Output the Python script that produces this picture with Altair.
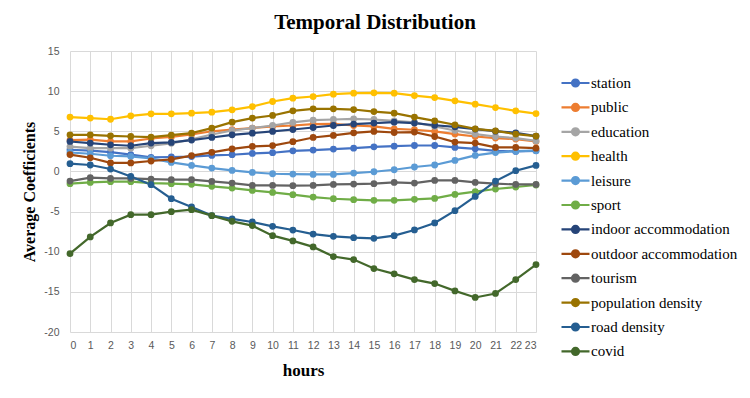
import altair as alt
import pandas as pd

hours = list(range(24))

station = [2.7, 2.6, 2.4, 2.1, 1.75, 1.8, 1.85, 1.99, 2.08, 2.24, 2.33, 2.57,
           2.66, 2.79, 2.9, 3.07, 3.15, 3.23, 3.23, 2.99, 2.82, 2.57, 2.49, 2.57]
public = [3.9, 3.95, 3.75, 3.75, 4.1, 4.3, 4.6, 5.0, 5.2, 5.4, 5.6, 5.72,
          5.9, 5.93, 5.72, 5.6, 5.31, 5.19, 4.98, 4.65, 4.35, 4.15, 4.03, 3.73]
education = [3.1, 2.9, 2.9, 2.9, 3.2, 3.5, 4.0, 4.6, 5.1, 5.4, 5.72, 6.1,
             6.39, 6.47, 6.55, 6.47, 6.3, 6.1, 5.6, 5.1, 4.65, 4.35, 4.15, 3.8]
health = [6.77, 6.64, 6.5, 6.93, 7.18, 7.18, 7.26, 7.38, 7.67, 8.08, 8.71, 9.13,
          9.33, 9.62, 9.75, 9.79, 9.75, 9.45, 9.2, 8.79, 8.38, 7.96, 7.55, 7.21]
leisure = [2.36, 2.2, 1.95, 1.87, 1.62, 1.12, 0.75, 0.42, 0.12, -0.12, -0.29, -0.33,
           -0.37, -0.37, -0.2, -0.04, 0.21, 0.55, 0.8, 1.37, 1.99, 2.35, 2.52, 2.58]
sport = [-1.53, -1.37, -1.28, -1.28, -1.45, -1.53, -1.61, -1.86, -2.07, -2.36, -2.61, -2.9,
         -3.19, -3.4, -3.52, -3.6, -3.6, -3.48, -3.36, -2.86, -2.52, -2.19, -1.94, -1.69]
indoor = [3.73, 3.53, 3.32, 3.2, 3.53, 3.61, 3.9, 4.23, 4.56, 4.77, 4.98, 5.22,
          5.47, 5.72, 5.9, 6.02, 6.14, 6.02, 5.75, 5.55, 5.27, 5.02, 4.8, 4.4]
outdoor = [2.1, 1.7, 1.06, 1.06, 1.3, 1.5, 1.97, 2.38, 2.8, 3.11, 3.22, 3.7,
           4.23, 4.48, 4.81, 4.98, 4.85, 4.9, 4.35, 3.66, 3.53, 2.99, 2.99, 2.9]
tourism = [-1.2, -0.78, -0.87, -0.87, -0.95, -1.03, -1.03, -1.24, -1.45, -1.74, -1.74, -1.78,
           -1.74, -1.62, -1.57, -1.53, -1.37, -1.45, -1.12, -1.12, -1.37, -1.53, -1.62, -1.62]
population_density = [4.56, 4.56, 4.44, 4.35, 4.28, 4.52, 4.77, 5.4, 6.14, 6.64, 6.97, 7.55,
                      7.8, 7.8, 7.71, 7.46, 7.26, 6.77, 6.3, 5.81, 5.31, 5.06, 4.65, 4.4]
road_density = [0.96, 0.8, 0.3, -0.62, -1.65, -3.4, -4.43, -5.5, -5.92, -6.3, -6.84, -7.3,
                -7.8, -8.08, -8.25, -8.33, -8.0, -7.29, -6.42, -4.89, -3.11, -1.2, 0.09, 0.75]
covid = [-10.24, -8.16, -6.42, -5.39, -5.39, -5.01, -4.76, -5.51, -6.22, -6.75, -8.0, -8.65,
         -9.4, -10.6, -10.98, -12.1, -12.76, -13.47, -13.97, -14.88, -15.7, -15.2, -13.47, -11.6]

series_names = ["station", "public", "education", "health", "leisure", "sport",
                "indoor accommodation", "outdoor accommodation", "tourism",
                "population density", "road density", "covid"]
series_values = [station, public, education, health, leisure, sport,
                 indoor, outdoor, tourism, population_density, road_density, covid]
series_colors = ["#4472C4", "#ED7D31", "#A5A5A5", "#FFC000", "#5B9BD5", "#70AD47",
                 "#264478", "#9E480E", "#636363", "#997300", "#255E91", "#43682B"]

y_ticks = [-20, -15, -10, -5, 0, 5, 10, 15]

rows = []
for order, (name, vals) in enumerate(zip(series_names, series_values)):
    for h, v in zip(hours, vals):
        rows.append({"hour": h, "value": v, "series": name, "order": order})
df = pd.DataFrame(rows)

# legend glyph: short line with a dot in the middle
legend_glyph = ("M-1,0L1,0M-0.25,0A0.25,0.25,0,1,1,0.25,0"
                "A0.25,0.25,0,1,1,-0.25,0Z")

color = alt.Color(
    "series:N",
    scale=alt.Scale(domain=series_names, range=series_colors),
    legend=alt.Legend(
        title=None,
        orient="none",
        legendX=490,
        legendY=16.5,
        symbolType=legend_glyph,
        symbolSize=784,
        symbolStrokeWidth=2.2,
        labelFont="Liberation Serif",
        labelFontSize=15,
        labelColor="#000000",
        labelOffset=0,
        rowPadding=0.4,
        labelLimit=250,
    ),
)

x = alt.X(
    "hour:Q",
    scale=alt.Scale(domain=[0, 23], nice=False, zero=False),
    axis=alt.Axis(
        values=hours,
        title="hours",
        titleFont="Liberation Serif",
        titleFontSize=17,
        titleFontWeight="bold",
        titleColor="#000000",
        titlePadding=12,
        labelFont="Liberation Sans",
        labelFontSize=10.5,
        labelColor="#595959",
        labelPadding=8,
        ticks=False,
        domain=False,
        grid=True,
        gridColor="#D9D9D9",
    ),
)

y = alt.Y(
    "value:Q",
    scale=alt.Scale(domain=[-20, 15], nice=False),
    axis=alt.Axis(
        values=y_ticks,
        labelExpr="'' + datum.value",
        title="Average Coefficients",
        titleFont="Liberation Serif",
        titleFontSize=16,
        titleFontWeight="bold",
        titleColor="#000000",
        titlePadding=6,
        labelFont="Liberation Sans",
        labelFontSize=10.5,
        labelColor="#595959",
        labelPadding=11,
        ticks=False,
        domain=False,
        grid=True,
        gridColor="#D9D9D9",
    ),
)

base = alt.Chart(df).encode(x=x, y=y, color=color, order=alt.Order("order:Q"))

lines = base.mark_line(strokeWidth=2.2)
dots = base.mark_circle(size=46, opacity=1)

chart = (
    alt.layer(lines, dots)
    .properties(
        width=466,
        height=281,
        padding={"left": 70, "top": 51, "right": 214, "bottom": 66},
        autosize=alt.AutoSizeParams(type="none"),
        background="#FFFFFF",
        title=alt.TitleParams(
            "Temporal Distribution",
            font="Liberation Serif",
            fontSize=21,
            fontWeight="bold",
            color="#000000",
            anchor="middle",
            dx=72,
            offset=13,
        ),
    )
    .configure_view(stroke=None)
)

chart.save("out.html", embed_options={"renderer": "svg", "actions": False})
